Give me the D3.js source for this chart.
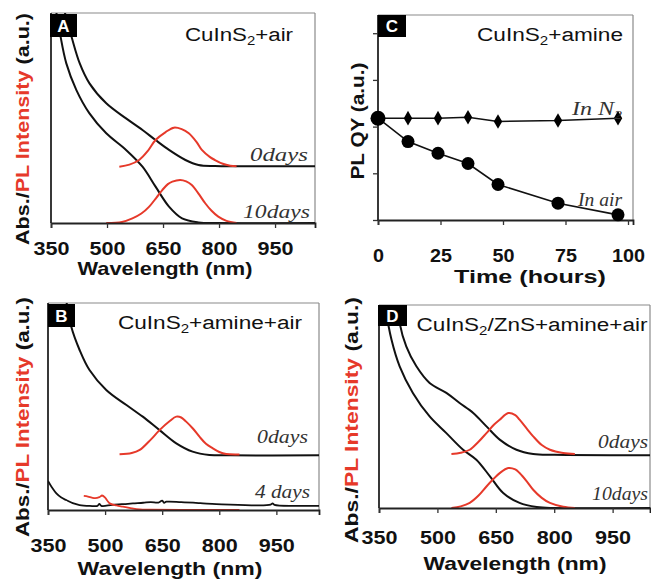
<!DOCTYPE html>
<html><head><meta charset="utf-8">
<script src="https://cdn.jsdelivr.net/npm/d3@7"></script>
<style>body{margin:0;background:#fff}svg{display:block}</style>
</head><body><svg id="c" width="651" height="581"></svg>
<script>
// ---------- DATA ----------
const wlTicks = [350, 500, 650, 800, 950];
const hourTicks = [0, 25, 50, 75, 100];
const qyTicks = [0, 1, 2, 3, 4];

// Panel A: CuInS2 + air  [wavelength nm, a.u.]
const aAbs0 = [[380,1.05],[405,0.887],[427,0.76],[453,0.665],[498,0.57],[551,0.498],[595,0.443],[630,0.395],[666,0.348],[710,0.30],[745,0.276],[789,0.271],[850,0.27],[1057,0.27]];
const aAbs10 = [[360,1.05],[374,0.903],[391,0.76],[418,0.633],[453,0.522],[498,0.427],[551,0.348],[595,0.268],[630,0.173],[666,0.078],[701,0.022],[745,0.003],[800,0],[1057,0]];
const aPl0 = [[533,0.268],[560,0.278],[586,0.30],[610,0.345],[630,0.395],[657,0.433],[679,0.454],[700,0.447],[719,0.427],[740,0.385],[754,0.348],[775,0.315],[789,0.30],[810,0.282],[830,0.273],[847,0.27]];
const aPl10 = [[498,0],[540,0.005],[568,0.022],[592,0.045],[613,0.078],[632,0.12],[648,0.157],[663,0.185],[675,0.197],[696,0.205],[712,0.198],[727,0.181],[745,0.14],[763,0.094],[780,0.058],[798,0.03],[820,0.01],[847,0]];

// Panel B: CuInS2 + amine + air
const bAbs0 = [[395,1.05],[411,0.886],[433,0.773],[459,0.676],[503,0.58],[556,0.507],[599,0.451],[643,0.386],[687,0.322],[730,0.282],[774,0.266],[830,0.264],[1062,0.264]];
const bPl0 = [[538,0.269],[570,0.275],[591,0.29],[620,0.34],[643,0.386],[670,0.43],[687,0.451],[700,0.447],[713,0.427],[730,0.395],[748,0.354],[765,0.32],[783,0.298],[800,0.28],[818,0.27],[853,0.268]];
const bAbs4 = [[350,0.14],[360,0.11],[372,0.08],[385,0.06],[398,0.048],[415,0.033],[433,0.024],[460,0.02],[480,0.02],[485,0.03],[490,0.02],[520,0.025],[560,0.03],[573,0.032],[600,0.035],[620,0.038],[640,0.036],[650,0.045],[655,0.035],[661,0.04],[700,0.038],[750,0.033],[792,0.028],[850,0.025],[900,0.022],[935,0.026],[940,0.032],[945,0.025],[1000,0.02],[1062,0.02]];
const bPl4 = [[444,0.068],[455,0.065],[465,0.06],[474,0.057],[485,0.062],[492,0.07],[500,0.06],[506,0.045],[512,0.032],[530,0.022],[547,0.016],[570,0.008],[591,0.003],[620,0.002],[700,0.001],[853,0.001]];

// Panel C: PL QY vs time
const hours = [0, 12, 24, 36, 48, 72, 96];
const qyN2 = [2.18, 2.18, 2.18, 2.2, 2.11, 2.13, 2.18];
const qyAir = [2.18, 1.68, 1.43, 1.21, 0.76, 0.36, 0.11];

// Panel D: CuInS2/ZnS + amine + air
const dAbs0 = [[398,1.0],[403,0.911],[420,0.796],[446,0.698],[480,0.616],[523,0.567],[557,0.517],[592,0.468],[626,0.402],[660,0.337],[703,0.287],[746,0.266],[800,0.262],[1046,0.26]];
const dAbs10 = [[365,1.0],[382,0.83],[403,0.698],[437,0.567],[480,0.451],[523,0.369],[566,0.287],[600,0.238],[635,0.156],[669,0.074],[711,0.025],[755,0.005],[800,0],[1046,0]];
const dPl0 = [[536,0.266],[560,0.272],[583,0.287],[605,0.325],[626,0.369],[645,0.41],[660,0.435],[682,0.468],[700,0.458],[711,0.435],[730,0.39],[746,0.353],[768,0.31],[789,0.287],[823,0.271],[853,0.266]];
const dPl10 = [[536,0],[560,0.008],[583,0.025],[605,0.06],[626,0.106],[645,0.145],[660,0.172],[682,0.197],[700,0.19],[711,0.172],[730,0.13],[746,0.09],[768,0.05],[789,0.025],[823,0.006],[853,0]];

// ---------- DRAW ----------
const RED = "#e6392a";
const SANS = "'Liberation Sans', Arial, sans-serif";
const SERIF = "'Liberation Serif', 'Times New Roman', serif";
const svg = d3.select("#c");

function frame(g, x, y) {
  const [x0, x1] = x.range(), [y0, y1] = y.range();
  g.append("line").attr("x1", x1).attr("x2", x1).attr("y1", y1).attr("y2", y0).attr("stroke", "#8a8a8a").attr("stroke-width", 1.2);
  g.append("line").attr("x1", x0).attr("x2", x1).attr("y1", y1).attr("y2", y1).attr("stroke", "#8a8a8a").attr("stroke-width", 1.2);
  g.append("line").attr("x1", x0).attr("x2", x0).attr("y1", y1).attr("y2", y0).attr("stroke", "#222").attr("stroke-width", 1.8);
}

function xAxis(g, x, yPix, ticks, pad, lens) {
  const ax = d3.axisBottom(x).tickValues(ticks).tickSize(5).tickPadding(pad).tickFormat(d3.format("d"));
  const a = g.append("g").attr("transform", `translate(0,${yPix})`).call(ax);
  a.select(".domain").attr("stroke", "#222").attr("stroke-width", 1.8);
  a.selectAll(".tick line").attr("stroke", "#333").attr("stroke-width", 1.3);
  a.selectAll(".tick text").attr("font-family", SANS).attr("font-weight", "bold").attr("font-size", 19).attr("fill", "#111")
    .attr("textLength", d => lens(d)).attr("lengthAdjust", "spacingAndGlyphs");
  return a;
}

function title(g, cx, by, len, parts) {
  const t = g.append("text").attr("x", cx).attr("y", by).attr("text-anchor", "middle")
    .attr("font-family", SANS).attr("font-size", 18).attr("fill", "#111");
  parts.forEach(p => {
    const s = t.append("tspan").text(p[0]);
    if (p[1] === "sub") s.attr("font-size", 12).attr("dy", 4);
    else if (p[1] === "back") s.attr("dy", -4);
  });
  t.attr("textLength", len).attr("lengthAdjust", "spacingAndGlyphs");
}

function note(g, xEnd, by, len, parts) {
  const t = g.append("text").attr("x", xEnd).attr("y", by).attr("text-anchor", "end")
    .attr("font-family", SERIF).attr("font-style", "italic").attr("font-size", 18).attr("fill", "#333");
  parts.forEach(p => {
    const s = t.append("tspan").text(p[0]);
    if (p[1] === "sub") s.attr("font-size", 12).attr("dy", 4);
  });
  t.attr("textLength", len).attr("lengthAdjust", "spacingAndGlyphs");
}

function letter(g, x, y, w, h, L) {
  g.append("rect").attr("x", x).attr("y", y).attr("width", w).attr("height", h).attr("fill", "#000");
  g.append("text").attr("x", x + w / 2).attr("y", y + h / 2 + 6).attr("text-anchor", "middle")
    .attr("font-family", SANS).attr("font-weight", "bold").attr("font-size", 17).attr("fill", "#fff").text(L);
}

function yLabelSpec(g, cx, cy, len) {
  const t = g.append("text").attr("transform", `translate(${cx + 7},${cy}) rotate(-90)`).attr("text-anchor", "middle")
    .attr("font-family", SANS).attr("font-weight", "bold").attr("font-size", 19);
  t.append("tspan").attr("fill", "#111").text("Abs./");
  t.append("tspan").attr("fill", RED).text("PL Intensity");
  t.append("tspan").attr("fill", "#111").text(" (a.u.)");
  t.attr("textLength", len).attr("lengthAdjust", "spacingAndGlyphs");
}

function axisTitle(g, cx, by, len, txt) {
  g.append("text").attr("x", cx).attr("y", by).attr("text-anchor", "middle")
    .attr("font-family", SANS).attr("font-weight", "bold").attr("font-size", 19).attr("fill", "#111")
    .attr("textLength", len).attr("lengthAdjust", "spacingAndGlyphs").text(txt);
}

let clipN = 0;
function spectrumPanel(cfg) {
  const g = svg.append("g");
  const x = d3.scaleLinear().domain(cfg.xd).range(cfg.xr);
  const y = d3.scaleLinear().domain([0, 1]).range(cfg.yr);
  const id = "clip" + (clipN++);
  svg.append("clipPath").attr("id", id).append("rect")
    .attr("x", cfg.xr[0]).attr("y", cfg.yr[1]).attr("width", cfg.xr[1] - cfg.xr[0]).attr("height", cfg.yr[0] - cfg.yr[1]);
  frame(g, x, y);
  const line = d3.line().x(d => x(d[0])).y(d => y(d[1])).curve(d3.curveCatmullRom.alpha(0.5));
  const cg = g.append("g").attr("clip-path", `url(#${id})`);
  cfg.series.forEach(s => {
    cg.append("path").datum(s.data).attr("d", line).attr("fill", "none")
      .attr("stroke", s.red ? RED : "#111").attr("stroke-width", s.w || 2).attr("stroke-linejoin", "round");
  });
  xAxis(g, x, cfg.yr[0], wlTicks, cfg.pad, () => 36);
  return g;
}

// Panel A
{
  const g = spectrumPanel({ xd: [350, 1057], xr: [51, 315], yr: [223, 13], pad: 14,
    series: [{ data: aAbs0 }, { data: aAbs10 }, { data: aPl0, red: true }, { data: aPl10, red: true }] });
  letter(g, 50, 14, 27, 23, "A");
  title(g, 239, 41, 108, [["CuInS"], ["2", "sub"], ["+air", "back"]]);
  note(g, 308, 161, 58, [["0days"]]);
  note(g, 310, 218, 67, [["10days"]]);
  yLabelSpec(g, 22, 129, 232);
  axisTitle(g, 165, 275, 175, "Wavelength (nm)");
}
// Panel B
{
  const g = spectrumPanel({ xd: [350, 1062], xr: [48, 319], yr: [510, 303], pad: 24,
    series: [{ data: bAbs0 }, { data: bAbs4, w: 1.8 }, { data: bPl0, red: true }, { data: bPl4, red: true, w: 1.8 }] });
  letter(g, 48, 304, 27, 23, "B");
  title(g, 210, 329, 184, [["CuInS"], ["2", "sub"], ["+amine+air", "back"]]);
  note(g, 308, 443, 51, [["0days"]]);
  note(g, 310, 498, 55, [["4 days"]]);
  yLabelSpec(g, 22, 417, 240);
  axisTitle(g, 170, 575, 185, "Wavelength (nm)");
}
// Panel D
{
  const g = spectrumPanel({ xd: [350, 1046], xr: [379, 650], yr: [508, 305], pad: 18,
    series: [{ data: dAbs0 }, { data: dAbs10 }, { data: dPl0, red: true }, { data: dPl10, red: true }] });
  letter(g, 378, 305, 29, 21, "D");
  title(g, 532, 331, 231, [["CuInS"], ["2", "sub"], ["/ZnS+amine+air", "back"]]);
  note(g, 648, 448, 50, [["0days"]]);
  note(g, 648, 500, 56, [["10days"]]);
  yLabelSpec(g, 351, 420, 246);
  axisTitle(g, 515, 570, 183, "Wavelength (nm)");
}
// Panel C
{
  const g = svg.append("g");
  const x = d3.scaleLinear().domain([0, 102]).range([378, 633]);
  const y = d3.scaleLinear().domain([0, 4.39]).range([220, 15]);
  frame(g, x, y);
  const ya = g.append("g").attr("transform", `translate(${x(0)},0)`).call(d3.axisLeft(y).tickValues(qyTicks).tickSize(5).tickFormat(""));
  ya.select(".domain").remove();
  ya.selectAll(".tick line").attr("stroke", "#333").attr("stroke-width", 1.3);
  xAxis(g, x, 220, hourTicks, 24, d => String(d).length * 11);
  const line = d3.line().x((d, i) => x(hours[i])).y(d => y(d));
  g.append("path").datum(qyN2).attr("d", line).attr("fill", "none").attr("stroke", "#111").attr("stroke-width", 1.6);
  g.append("path").datum(qyAir).attr("d", line).attr("fill", "none").attr("stroke", "#111").attr("stroke-width", 1.6);
  g.selectAll(".air").data(qyAir).join("circle").attr("class", "air")
    .attr("cx", (d, i) => x(hours[i])).attr("cy", d => y(d)).attr("r", (d, i) => i === 0 ? 7.5 : 6.5).attr("fill", "#000");
  g.selectAll(".n2").data(qyN2).join("path").attr("class", "n2")
    .attr("transform", (d, i) => `translate(${x(hours[i])},${y(d)})`)
    .attr("d", d3.symbol().type(d3.symbolDiamond).size(62)).attr("fill", "#000");
  letter(g, 378, 15, 28, 22, "C");
  title(g, 550, 41, 146, [["CuInS"], ["2", "sub"], ["+amine", "back"]]);
  note(g, 622, 115, 50, [["In N"], ["2", "sub"]]);
  note(g, 622, 206, 44, [["In air"]]);
  g.append("text").attr("transform", `translate(364,121) rotate(-90)`).attr("text-anchor", "middle")
    .attr("font-family", SANS).attr("font-weight", "bold").attr("font-size", 19).attr("fill", "#111")
    .attr("textLength", 117).attr("lengthAdjust", "spacingAndGlyphs").text("PL QY (a.u.)");
  axisTitle(g, 530, 283, 152, "Time (hours)");
}
</script></body></html>
